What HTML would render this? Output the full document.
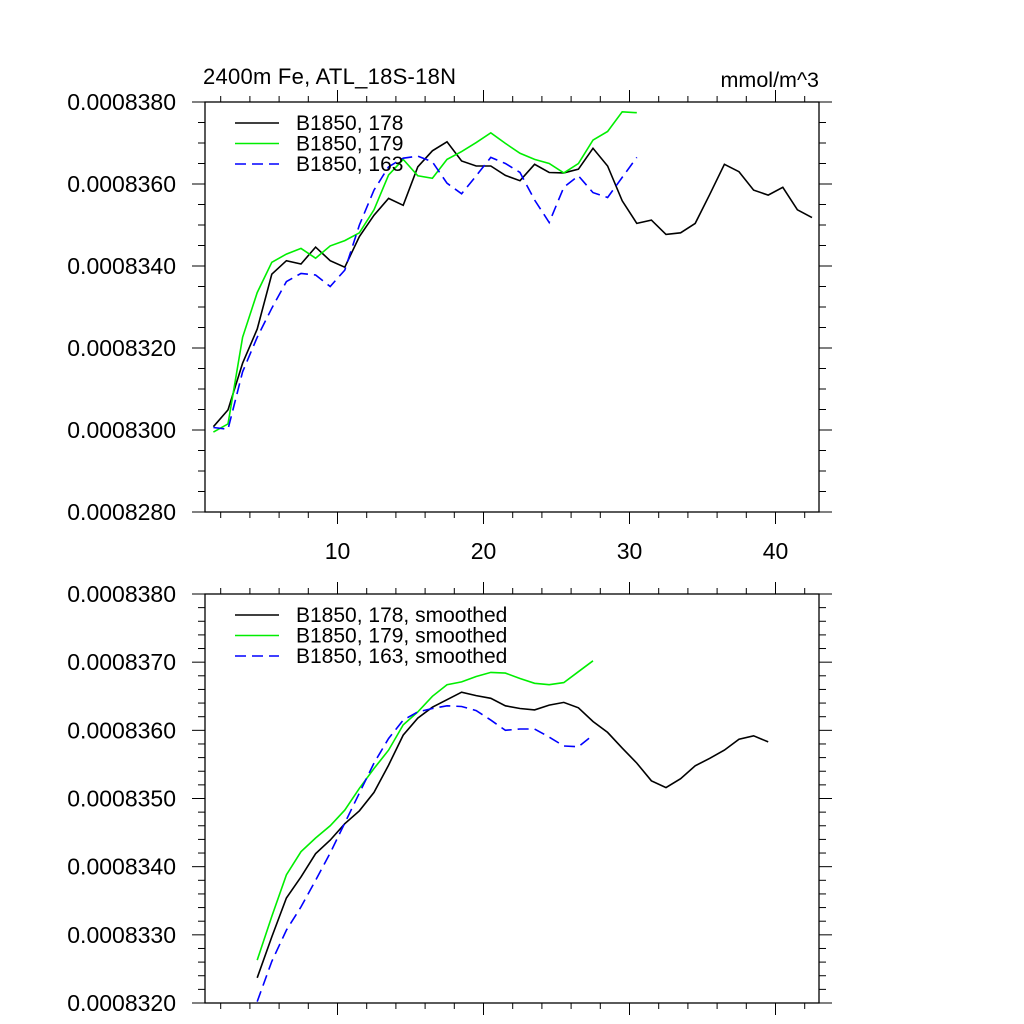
<!DOCTYPE html>
<html><head><meta charset="utf-8"><style>
html,body{margin:0;padding:0;background:#fff;}
svg{display:block;font-family:"Liberation Sans",sans-serif;}
</style></head><body>
<svg id="chart" width="1024" height="1024" viewBox="0 0 1024 1024" xmlns="http://www.w3.org/2000/svg">
<rect width="1024" height="1024" fill="#fff"/>
<text x="203" y="84" font-size="22" textLength="253">2400m Fe, ATL_18S-18N</text>
<text x="819" y="87" font-size="21.5" text-anchor="end">mmol/m^3</text>
<g id="top"></g><g id="bot"></g>
</svg>
<script>
const topX=[1.5,2.5,3.5,4.5,5.5,6.5,7.5,8.5,9.5,10.5,11.5,12.5,13.5,14.5,15.5,16.5,17.5,18.5,19.5,20.5,21.5,22.5,23.5,24.5,25.5,26.5,27.5,28.5,29.5,30.5,31.5,32.5,33.5,34.5,35.5,36.5,37.5,38.5,39.5,40.5,41.5,42.5];
const run178=[8300.8,8304.9,8316.3,8324.6,8338.0,8341.3,8340.5,8344.6,8341.3,8339.7,8347.2,8352.4,8356.5,8354.8,8364.2,8368.1,8370.3,8365.6,8364.4,8364.4,8362.1,8360.8,8364.8,8362.8,8362.7,8363.6,8368.7,8364.4,8355.9,8350.4,8351.2,8347.7,8348.1,8350.4,8357.5,8364.8,8363.0,8358.5,8357.3,8359.2,8353.7,8351.8];
const run179=[8299.5,8301.5,8322.6,8333.5,8340.9,8342.9,8344.3,8341.9,8344.9,8346.2,8348.1,8353.7,8362.2,8366.0,8362.0,8361.4,8366.0,8367.9,8370.1,8372.5,8369.9,8367.5,8366.0,8365.0,8362.7,8365.0,8370.7,8372.8,8377.6,8377.4];
const run163=[8300.6,8300.2,8314.2,8322.6,8329.7,8336.2,8338.2,8337.8,8335.0,8339.0,8350.0,8358.5,8364.2,8366.3,8366.8,8365.4,8360.2,8357.6,8362.0,8366.5,8365.0,8362.8,8356.1,8350.6,8359.2,8362.0,8357.9,8356.7,8361.6,8366.5];
const botX=[4.5,5.5,6.5,7.5,8.5,9.5,10.5,11.5,12.5,13.5,14.5,15.5,16.5,17.5,18.5,19.5,20.5,21.5,22.5,23.5,24.5,25.5,26.5,27.5,28.5,29.5,30.5,31.5,32.5,33.5,34.5,35.5,36.5,37.5,38.5,39.5];
const sm178=[8323.7,8329.7,8335.4,8338.5,8341.9,8343.9,8346.3,8348.2,8350.9,8354.9,8359.3,8361.8,8363.4,8364.5,8365.6,8365.1,8364.7,8363.6,8363.2,8363.0,8363.7,8364.1,8363.3,8361.3,8359.7,8357.4,8355.2,8352.6,8351.6,8352.9,8354.8,8355.9,8357.1,8358.7,8359.2,8358.3];
const sm179=[8326.3,8332.7,8338.8,8342.2,8344.2,8346.0,8348.3,8351.5,8354.4,8357.1,8360.8,8362.7,8365.0,8366.7,8367.1,8367.9,8368.5,8368.4,8367.6,8366.9,8366.7,8367.0,8368.6,8370.2];
const sm163=[8320.2,8326.1,8330.7,8334.1,8338.0,8342.0,8346.4,8350.8,8355.2,8358.8,8361.5,8362.7,8363.2,8363.6,8363.5,8362.9,8361.5,8360.0,8360.2,8360.2,8359.0,8357.7,8357.6,8359.3];
const xTickLabels=["10","20","30","40"];
const topYLabels=["0.0008280","0.0008300","0.0008320","0.0008340","0.0008360","0.0008380"];
const botYLabels=["0.0008320","0.0008330","0.0008340","0.0008350","0.0008360","0.0008370","0.0008380"];
const topLegend=["B1850, 178","B1850, 179","B1850, 163"];
const botLegend=["B1850, 178, smoothed","B1850, 179, smoothed","B1850, 163, smoothed"];

const NS="http://www.w3.org/2000/svg";
const L=205,R=819;
function xs(v){return 337.5+(v-10)*14.6;}
function mk(parent,tag,attrs){const e=document.createElementNS(NS,tag);for(const k in attrs)e.setAttribute(k,attrs[k]);parent.appendChild(e);return e;}
function panel(g,T,B,ymin,ymax,ymaj,nminor,ylabels,showX,series,legend,prefix){
  const ys=v=>B-(v-ymin)/(ymax-ymin)*(B-T);
  const st={stroke:"#000","stroke-width":1.3,fill:"none"};
  const fr=mk(g,"rect",{x:L,y:T,width:R-L,height:B-T,...st});
  
  
  for(let v=2;v<=42;v+=2){
    const x=xs(v);const maj=v%10===0;const len=maj?12:6;
    mk(g,"line",{x1:x,y1:B,x2:x,y2:B+len,stroke:"#000","stroke-width":1});
    mk(g,"line",{x1:x,y1:T,x2:x,y2:T-len,stroke:"#000","stroke-width":1});
  }
  if(showX){xTickLabels.forEach(s=>{const t=mk(g,"text",{x:xs(+s),y:B+47,"font-size":23,"text-anchor":"middle"});t.textContent=s;
    
    });}
  const step=ymaj/(nminor+1);
  const n=Math.round((ymax-ymin)/step);
  for(let i=0;i<=n;i++){
    const v=ymin+i*step;const y=ys(v);const maj=i%(nminor+1)===0;const len=maj?13:7;
    mk(g,"line",{x1:L,y1:y,x2:L-len,y2:y,stroke:"#000","stroke-width":1});
    mk(g,"line",{x1:R,y1:y,x2:R+len,y2:y,stroke:"#000","stroke-width":1});
  }
  ylabels.forEach((s,i)=>{const t=mk(g,"text",{x:176,y:ys(ymin+i*ymaj)+8,"font-size":23,"text-anchor":"end"});t.textContent=s;
    
    });
  series.forEach((sr,k)=>{
    const pts=sr.vals.map((v,i)=>xs(sr.x[i]).toFixed(1)+","+ys(v).toFixed(1)).join(" ");
    const p=mk(g,"polyline",{points:pts,fill:"none",stroke:sr.c,"stroke-width":1.6,"stroke-dasharray":sr.d||"none"});
    
    
    const ly=T+21+k*20.5;
    const ll=mk(g,"line",{x1:235,y1:ly,x2:279,y2:ly,stroke:sr.c,"stroke-width":1.6,"stroke-dasharray":sr.d||"none"});
    
    
    const t=mk(g,"text",{x:296,y:ly+7,"font-size":21});t.textContent=legend[k];
    
    
  });
}
panel(document.getElementById('top'),102,512,8280,8380,20,3,topYLabels,true,
 [{x:topX,vals:run178,c:"#000",n:"178"},{x:topX,vals:run179,c:"#00ee00",n:"179"},{x:topX,vals:run163,c:"#0000ff",d:"11 6",n:"163"}],topLegend,"top");
panel(document.getElementById('bot'),594,1003,8320,8380,10,4,botYLabels,false,
 [{x:botX,vals:sm178,c:"#000",n:"178-smoothed"},{x:botX,vals:sm179,c:"#00ee00",n:"179-smoothed"},{x:botX,vals:sm163,c:"#0000ff",d:"11 6",n:"163-smoothed"}],botLegend,"bottom");
</script>
</body></html>
